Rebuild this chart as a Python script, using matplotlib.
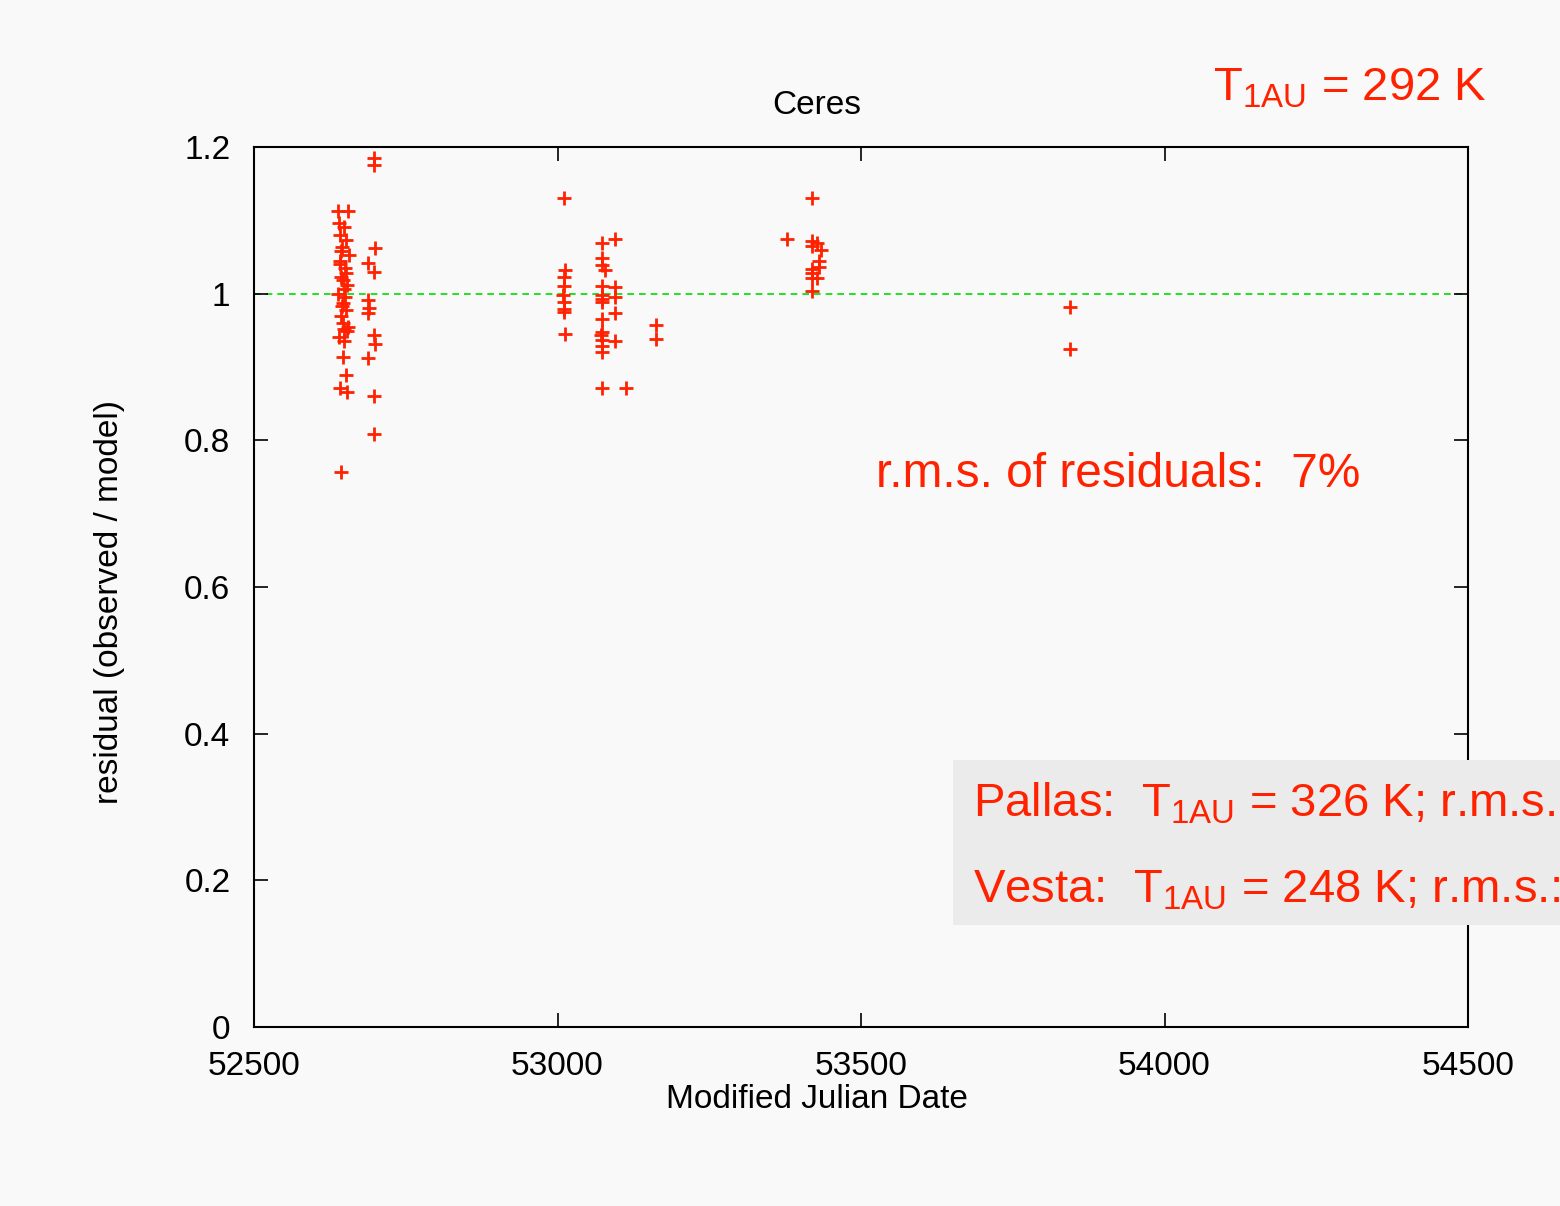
import matplotlib
matplotlib.use("Agg")
import matplotlib.pyplot as plt
from matplotlib.patches import Rectangle
from matplotlib.ticker import FixedLocator, FuncFormatter

plt.rcParams['font.family'] = ['Liberation Sans', 'DejaVu Sans']
plt.rcParams['mathtext.fontset'] = 'custom'
plt.rcParams['mathtext.rm'] = 'Liberation Sans'
plt.rcParams['mathtext.it'] = 'Liberation Sans'

# ---- data ----
mjd = [
    # cluster near 52650
    52638, 52655, 52640, 52648, 52642, 52652, 52645, 52656, 52641, 52650,
    52644, 52653, 52639, 52647, 52651, 52643, 52655, 52640, 52649, 52646,
    52652, 52641, 52654, 52644, 52648, 52650, 52642, 52646, 52653, 52647,
    52651, 52645, 52649, 52643,
    # second column near 52695
    52698, 52698, 52699, 52688, 52697, 52688, 52689, 52688, 52697, 52699,
    52688, 52698, 52697,
    # cluster near 53010
    53010, 53012, 53010, 53011, 53009, 53010, 53011, 53010, 53012,
    # cluster near 53075
    53073, 53073, 53073, 53073, 53073, 53073, 53074, 53073, 53073, 53072,
    53074, 53073, 53073, 53073, 53078,
    53095, 53095, 53095, 53095, 53095, 53113, 53163, 53163,
    # cluster near 53420
    53378, 53420, 53420, 53420, 53420, 53420, 53420, 53420, 53427, 53434,
    53431, 53431, 53427,
    # late points
    53845, 53845,
]
residual = [
    1.113, 1.113, 1.096, 1.091, 1.080, 1.073, 1.064, 1.053, 1.044, 1.035,
    1.023, 1.012, 1.000, 0.987, 0.978, 0.969, 0.955, 0.941, 0.935, 0.914,
    0.889, 0.871, 0.866, 0.757, 1.006, 0.995, 1.040, 0.960, 0.949, 1.018,
    1.028, 0.983, 0.952, 1.058,
    1.185, 1.175, 1.062, 1.042, 1.030, 0.991, 0.980, 0.974, 0.944, 0.932,
    0.912, 0.860, 0.809,
    1.130, 1.032, 1.023, 1.010, 0.998, 0.988, 0.979, 0.975, 0.945,
    1.069, 1.048, 1.039, 1.010, 0.998, 0.993, 0.989, 0.966, 0.948, 0.944,
    0.937, 0.928, 0.921, 0.872, 1.032,
    1.074, 1.009, 0.995, 0.974, 0.935, 0.871, 0.957, 0.938,
    1.074, 1.131, 1.072, 1.065, 1.033, 1.028, 1.021, 1.003, 1.069, 1.060,
    1.044, 1.037, 1.021,
    0.982, 0.924,
]

xticks = [52500, 53000, 53500, 54000, 54500]
yticks = [0, 0.2, 0.4, 0.6, 0.8, 1.0, 1.2]

RED = '#ff2200'
BG = '#f9f9f9'

fig = plt.figure(figsize=(15.6, 12.06), dpi=100, facecolor=BG)
ax = fig.add_axes([254/1560, 1 - 1027/1206, (1468-254)/1560, (1027-147)/1206])
ax.set_facecolor(BG)

ax.axhline(1.0, color='#00dd00', lw=1.2, ls=(0, (4, 3)), zorder=1)
ax.plot(mjd, residual, ls='none', marker='+', ms=10, mew=2, color=RED, zorder=2)

ax.set_xlim(52500, 54500)
ax.set_ylim(0, 1.2)
ax.xaxis.set_major_locator(FixedLocator(xticks))
ax.yaxis.set_major_locator(FixedLocator(yticks))
ax.yaxis.set_major_formatter(FuncFormatter(lambda v, p: f'{v:g}'))
ax.tick_params(direction='in', length=10, width=1.2, top=True, right=True,
               labelsize=24)
ax.tick_params(axis='x', pad=17)
ax.tick_params(axis='y', pad=17)
for s in ax.spines.values():
    s.set_linewidth(1.5)

fig.text(817/1560, 1 - 105/1206, 'Ceres', ha='center', va='center', fontsize=24)
fig.text(817/1560, 1 - 1099/1206, 'Modified Julian Date', ha='center', va='center', fontsize=24)
fig.text(110/1560, 1 - 602/1206, 'residual (observed / model)', ha='center', va='center',
         rotation=90, fontsize=24)

fig.text(1213/1560, 1 - 100/1206, r'T$_{\mathrm{1AU}}$ = 292 K', ha='left', va='baseline',
         fontsize=34, color=RED)
fig.text(876/1560, 1 - 487/1206, 'r.m.s. of residuals:  7%', ha='left', va='baseline',
         fontsize=34.5, color=RED)

box = Rectangle((953/1560, 1 - 925/1206), 1 - 953/1560, (925-760)/1206,
                transform=fig.transFigure, facecolor='#ebebeb', edgecolor='none', zorder=5)
fig.add_artist(box)
fig.text(973/1560, 1 - 816/1206, r'Pallas:  T$_{\mathrm{1AU}}$ = 326 K; r.m.s.:', ha='left',
         va='baseline', fontsize=34, color=RED, zorder=6)
fig.text(973/1560, 1 - 903/1206, r'Vesta:  T$_{\mathrm{1AU}}$ = 248 K; r.m.s.:', ha='left',
         va='baseline', fontsize=34, color=RED, zorder=6)

fig.savefig('out.png', dpi=100, facecolor=BG)
